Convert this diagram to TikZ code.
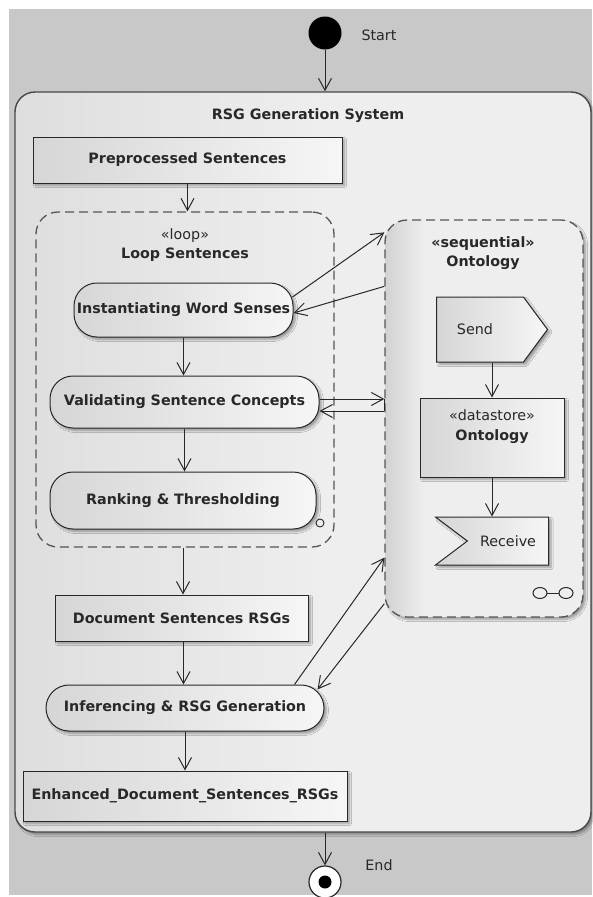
\documentclass[tikz,border=0pt]{standalone}
\usepackage{fontspec}
\setmainfont{DejaVu Sans}
\usetikzlibrary{arrows.meta,calc,shadows,shadows.blur,shapes.symbols}

\definecolor{bggray}{RGB}{200,200,200}
\definecolor{panel}{RGB}{238,238,238}
\definecolor{panelL}{RGB}{222,222,222}
\definecolor{ontoL}{RGB}{210,210,210}
\definecolor{nodeL}{RGB}{214,214,214}
\definecolor{nodeR}{RGB}{246,246,246}
\definecolor{ink}{RGB}{40,40,40}
\definecolor{dashink}{RGB}{85,85,85}

% side fades for the system frame and the ontology partition
\pgfdeclarehorizontalshading{mainfade}{100bp}{color(0bp)=(panelL); color(25bp)=(panelL); color(52bp)=(panel); color(100bp)=(panel)}
\pgfdeclarehorizontalshading{ontofade}{100bp}{color(0bp)=(ontoL); color(25bp)=(ontoL); color(35bp)=(panel); color(100bp)=(panel)}

\tikzset{
  txt/.style={font=\fontsize{14.3}{18}\selectfont, text=ink, inner sep=0pt},
  btxt/.style={txt, font=\fontsize{14.3}{18}\selectfont\bfseries},
  softshadow/.style={blur shadow={shadow xshift=2.5pt, shadow yshift=-2.5pt,
      shadow blur radius=2pt, shadow blur steps=6, shadow opacity=35}},
  actbox/.style={draw=ink, line width=1pt, rounded corners=23pt,
      left color=nodeL, right color=nodeR, inner sep=0pt, softshadow,
      font=\fontsize{14.3}{18}\selectfont\bfseries, text=ink},
  objbox/.style={draw=ink, line width=1pt, left color=nodeL, right color=nodeR,
      inner sep=0pt, softshadow, font=\fontsize{14.3}{18}\selectfont\bfseries, text=ink},
  region/.style={draw=dashink, line width=1.3pt, dash pattern=on 9pt off 5pt,
      rounded corners=22pt, inner sep=0pt},
  arr/.style={draw=ink, line width=1pt,
      -{Straight Barb[length=12pt, width=13pt, line width=1pt]}},
}

\begin{document}
\begin{tikzpicture}[x=1pt, y=-1pt]
  \useasboundingbox (0,0) rectangle (592,897);
  \fill[white] (0,0) rectangle (592,897);
  \fill[bggray] (9,9) rectangle (592,895);

  % system frame
  \node[draw=ink!85, line width=1.4pt, rounded corners=20pt, shading=mainfade,
        minimum width=576pt, minimum height=740pt, inner sep=0pt, softshadow]
        (rsg) at (303,462) {};
  \node[btxt] (rsgtitle) at (308,116) {RSG Generation System};

  % initial and final nodes
  \node[circle, fill=black, minimum size=33pt, inner sep=0pt] (start) at (325,33) {};
  \node[txt] (starttxt) at (379,35) {Start};
  \node[circle, draw=ink, line width=1.2pt, fill=white, minimum size=32pt, inner sep=0pt]
        (end) at (325,882) {};
  \node[circle, fill=black, minimum size=13pt, inner sep=0pt] (enddot) at (end) {};
  \node[txt] (endtxt) at (379,865) {End};

  % loop partition
  \node[region, minimum width=298pt, minimum height=335pt] (loop) at (185,379.5) {};
  \node[txt, align=center, font=\fontsize{14.3}{19}\selectfont] (looptitle) at (185,245)
        {«loop»\\\textbf{Loop Sentences}};

  % ontology partition
  \node[region, shading=ontofade, softshadow, minimum width=198pt, minimum height=397pt]
        (onto) at (484,418.5) {};
  \node[btxt, align=center, font=\fontsize{14.3}{19}\selectfont\bfseries] (ontotitle) at (483,253)
        {«sequential»\\Ontology};

  % main flow
  \node[objbox, minimum width=309pt, minimum height=46pt] (pre) at (187.5,160) {Preprocessed Sentences};
  \node[actbox, minimum width=219pt, minimum height=54pt] (inst) at (183.5,310) {Instantiating Word Senses};
  \node[actbox, minimum width=269pt, minimum height=52pt] (val) at (184.5,402) {Validating Sentence Concepts};
  \draw[ink, line width=0.9pt] (320,523) circle (4);
  \node[actbox, minimum width=266pt, minimum height=57pt] (rank) at (183,500.5) {Ranking \& Thresholding};
  \node[objbox, minimum width=253pt, minimum height=46pt] (doc) at (181.5,618) {Document Sentences RSGs};
  \node[actbox, minimum width=278pt, minimum height=46pt] (inf) at (185,708) {Inferencing \& RSG Generation};
  \node[objbox, minimum width=324pt, minimum height=50pt] (enh) at (185,796) {Enhanced\_Document\_Sentences\_RSGs};

  % ontology contents
  \node[signal, signal to=east, signal pointer angle=107, draw=ink, line width=1pt,
        left color=nodeL, right color=nodeR, softshadow, inner sep=0pt,
        minimum width=111pt, minimum height=65pt, anchor=west] (send) at (436,329.5) {};
  \node[txt] (sendtxt) at (475,329.5) {Send};
  \node[objbox, minimum width=144pt, minimum height=79pt] (ds) at (492,437.5) {};
  \node[txt, align=center, font=\fontsize{14.3}{20}\selectfont] (dstitle) at (492,427)
        {«datastore»\\\textbf{Ontology}};
  \node[signal, signal from=west, signal to=nowhere, signal pointer angle=74, draw=ink,
        line width=1pt, left color=nodeL, right color=nodeR, softshadow, inner sep=0pt,
        minimum width=113pt, minimum height=48pt, anchor=east] (recv) at (549,541) {};
  \node[txt] (recvtxt) at (508,541) {Receive};

  % stream marker of the ontology partition
  \draw[ink, line width=1pt] (540,593) ellipse [x radius=7, y radius=5.5];
  \draw[ink, line width=1pt] (566,593) ellipse [x radius=7, y radius=5.5];
  \draw[ink, line width=1pt] (547,593) -- (559,593);

  % control flow
  \draw[arr] (start.south) -- (start.south |- rsg.north);
  \draw[arr] (pre.south) -- (pre.south |- loop.north);
  \draw[arr] (inst.south) -- (inst.south |- val.north);
  \draw[arr] (val.south) -- (val.south |- rank.north);
  \draw[arr] ([xshift=-2pt]loop.south) -- ([xshift=-2pt]loop.south |- doc.north);
  \draw[arr] ([xshift=2pt]doc.south) -- ([xshift=2pt]doc.south |- inf.north);
  \draw[arr] (inf.south) -- (inf.south |- enh.north);
  \draw[arr] (end.north |- rsg.south) -- (end.north);
  \draw[arr] (ds.north |- send.south) -- (ds.north);
  \draw[arr] (ds.south) -- (ds.south |- recv.north);

  % exchanges with the ontology
  \coordinate (i1) at ($(inst.east)+(-1,-13)$);
  \coordinate (o1) at ($(onto.north west)+(0,13)$);
  \coordinate (o2) at ($(onto.north west)+(0,67)$);
  \coordinate (i2) at ($(inst.east)+(0,3)$);
  \draw[arr] (i1) -- (o1);
  \draw[arr] (o2) -- (i2);

  \coordinate (v1) at ($(val.east)+(0,-3)$);
  \coordinate (v2) at ($(val.east)+(0,9)$);
  \draw[arr] (v1) -- (v1 -| onto.west);
  \draw[arr] (v2 -| onto.west) -- (v2);
  \draw[ink, line width=1pt] (v1 -| onto.west) -- (v2 -| onto.west);

  \coordinate (f1) at ($(inf.north east)+(-30,0)$);
  \coordinate (o3) at ($(onto.south west)+(0,-60)$);
  \coordinate (o4) at ($(onto.south west)+(0,-14)$);
  \coordinate (f2) at ($(inf.north east)+(-7,5)$);
  \draw[arr] (f1) -- (o3);
  \draw[arr] (o4) -- (f2);
\end{tikzpicture}
\end{document}
